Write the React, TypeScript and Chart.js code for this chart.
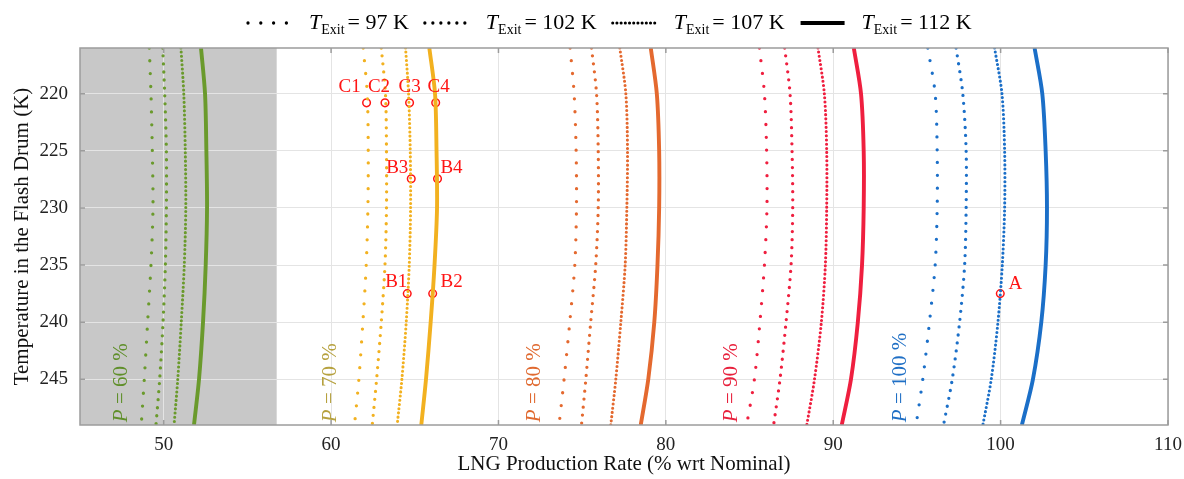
import React, { useEffect, useRef } from 'react';
import { Chart, registerables } from 'chart.js';

Chart.register(...registerables);

// ---------- data ----------
const Y_LEVELS = [216, 220, 225, 230, 235, 240, 245, 249];
const X_TICKS = [50, 60, 70, 80, 90, 100, 110];
const Y_TICKS = [220, 225, 230, 235, 240, 245];
const T_EXIT = [97, 102, 107, 112];
const PRESSURES = [60, 70, 80, 90, 100];
const SHADED_MAX = 56.75;

const P60_T97 = [49.14, 49.24, 49.32, 49.36, 49.24, 49.04, 48.84, 48.66];
const P60_T102 = [49.94, 50.06, 50.16, 50.16, 50.1, 49.96, 49.76, 49.54];
const P60_T107 = [51.03, 51.2, 51.29, 51.32, 51.23, 51.05, 50.84, 50.62];
const P60_T112 = [52.23, 52.47, 52.55, 52.59, 52.51, 52.35, 52.11, 51.81];

const P70_T97 = [61.92, 62.16, 62.22, 62.2, 62.1, 61.9, 61.66, 61.4];
const P70_T102 = [63.0, 63.25, 63.31, 63.31, 63.22, 63.0, 62.72, 62.46];
const P70_T107 = [64.45, 64.63, 64.73, 64.75, 64.67, 64.49, 64.23, 63.95];
const P70_T112 = [65.87, 66.21, 66.3, 66.33, 66.18, 65.95, 65.67, 65.39];

const P80_T97 = [74.28, 74.52, 74.64, 74.66, 74.56, 74.26, 73.92, 73.62];
const P80_T102 = [75.56, 75.86, 75.96, 75.96, 75.81, 75.51, 75.22, 74.96];
const P80_T107 = [77.25, 77.61, 77.71, 77.67, 77.57, 77.31, 77.01, 76.71];
const P80_T112 = [79.1, 79.46, 79.6, 79.6, 79.5, 79.31, 78.95, 78.5];

const P90_T97 = [85.59, 85.89, 86.02, 86.04, 85.89, 85.62, 85.29, 84.83];
const P90_T102 = [87.1, 87.42, 87.54, 87.58, 87.48, 87.18, 86.82, 86.44];
const P90_T107 = [89.09, 89.47, 89.61, 89.61, 89.53, 89.29, 88.88, 88.42];
const P90_T112 = [91.23, 91.66, 91.82, 91.82, 91.72, 91.47, 91.06, 90.51];

const P100_T97 = [95.65, 96.09, 96.21, 96.21, 96.09, 95.75, 95.35, 94.95];
const P100_T102 = [97.34, 97.74, 97.94, 97.94, 97.85, 97.55, 97.11, 96.59];
const P100_T107 = [99.64, 100.08, 100.24, 100.24, 100.1, 99.84, 99.44, 98.94];
const P100_T112 = [102.03, 102.49, 102.69, 102.77, 102.69, 102.43, 101.93, 101.27];

const SERIES = [
  [P60_T97, P60_T102, P60_T107, P60_T112],
  [P70_T97, P70_T102, P70_T107, P70_T112],
  [P80_T97, P80_T102, P80_T107, P80_T112],
  [P90_T97, P90_T102, P90_T107, P90_T112],
  [P100_T97, P100_T102, P100_T107, P100_T112],
];

const POINT_NAMES = ['C1', 'C2', 'C3', 'C4', 'B3', 'B4', 'B1', 'B2', 'A'];
const POINT_X = [62.12, 63.22, 64.69, 66.25, 64.79, 66.36, 64.55, 66.07, 99.98];
const POINT_Y = [220.8, 220.8, 220.8, 220.8, 227.45, 227.45, 237.5, 237.5, 237.5];

const P_LABEL_X = [47.45, 59.95, 72.15, 83.95, 94.0];
const P_LABEL_Y = 248.75;

// ---------- styles ----------
const FONT = '"Liberation Serif", "Times New Roman", serif';
const SERIES_COLORS = ['#6a9a2c', '#f2b120', '#e4692f', '#ef1f3f', '#1b6fc8'];
const P_LABEL_COLORS = ['#5f8f2a', '#b6a13e', '#e0692f', '#e8203c', '#1f6fc5'];
const DASHES = [[0, 12.8], [0, 8], [0, 4.2], []];
const WIDTHS = [3.3, 3.3, 3.1, 3.9];
const POINT_COLOR = '#ff1414';
const LABEL_OFFSETS = [
  [-17, -11], [-6, -11], [0, -11], [3, -11],
  [-14, -5.6], [14, -5.6], [-11, -6.7], [19, -6.7], [15, -5],
];

const shadePlugin = {
  id: 'shade',
  beforeDraw(chart: any) {
    const { ctx, chartArea, scales } = chart;
    const x1 = scales.x.getPixelForValue(SHADED_MAX);
    ctx.save();
    ctx.fillStyle = '#c8c8c8';
    ctx.fillRect(chartArea.left, chartArea.top, x1 - chartArea.left, chartArea.bottom - chartArea.top);
    ctx.restore();
  },
};

const boxPlugin = {
  id: 'box',
  afterDatasetsDraw(chart: any) {
    const { ctx, chartArea: a, scales } = chart;
    ctx.save();
    ctx.strokeStyle = '#9c9c9c';
    ctx.lineWidth = 1.5;
    ctx.setLineDash([]);
    ctx.strokeRect(a.left, a.top, a.right - a.left, a.bottom - a.top);
    ctx.beginPath();
    X_TICKS.forEach((v) => {
      const px = scales.x.getPixelForValue(v);
      ctx.moveTo(px, a.bottom); ctx.lineTo(px, a.bottom - 5);
      ctx.moveTo(px, a.top); ctx.lineTo(px, a.top + 5);
    });
    Y_TICKS.forEach((v) => {
      const py = scales.y.getPixelForValue(v);
      ctx.moveTo(a.left, py); ctx.lineTo(a.left + 5, py);
      ctx.moveTo(a.right, py); ctx.lineTo(a.right - 5, py);
    });
    ctx.stroke();
    ctx.restore();
  },
};

const labelsPlugin = {
  id: 'labels',
  afterDatasetsDraw(chart: any) {
    const { ctx, scales } = chart;
    ctx.save();
    ctx.fillStyle = POINT_COLOR;
    ctx.font = `19px ${FONT}`;
    ctx.textAlign = 'center';
    ctx.textBaseline = 'alphabetic';
    POINT_NAMES.forEach((n, i) => {
      const px = scales.x.getPixelForValue(POINT_X[i]);
      const py = scales.y.getPixelForValue(POINT_Y[i]);
      ctx.fillText(n, px + LABEL_OFFSETS[i][0], py + LABEL_OFFSETS[i][1]);
    });
    PRESSURES.forEach((p, i) => {
      const px = scales.x.getPixelForValue(P_LABEL_X[i]);
      const py = scales.y.getPixelForValue(P_LABEL_Y);
      ctx.save();
      ctx.translate(px, py);
      ctx.rotate(-Math.PI / 2);
      ctx.fillStyle = P_LABEL_COLORS[i];
      ctx.textAlign = 'left';
      ctx.textBaseline = 'middle';
      ctx.font = `italic 21px ${FONT}`;
      ctx.fillText('P', 0, 0);
      const w = ctx.measureText('P').width;
      ctx.font = `21px ${FONT}`;
      ctx.fillText(` = ${p} %`, w, 0);
      ctx.restore();
    });
    ctx.restore();
  },
};

const legendPlugin = {
  id: 'texitLegend',
  afterDraw(chart: any) {
    const ctx = chart.ctx;
    let x = 248;
    const yLine = 23;
    const yBase = 29;
    ctx.save();
    T_EXIT.forEach((t, i) => {
      ctx.save();
      ctx.strokeStyle = '#000';
      ctx.lineWidth = WIDTHS[i];
      ctx.lineCap = i === 3 ? 'butt' : 'round';
      ctx.setLineDash(DASHES[i]);
      ctx.beginPath();
      ctx.moveTo(x, yLine);
      ctx.lineTo(x + 44, yLine);
      ctx.stroke();
      ctx.restore();
      x += 44 + 17;
      ctx.fillStyle = '#000';
      ctx.textAlign = 'left';
      ctx.textBaseline = 'alphabetic';
      ctx.font = `italic 22px ${FONT}`;
      ctx.fillText('T', x, yBase);
      x += ctx.measureText('T').width;
      ctx.font = `14px ${FONT}`;
      ctx.fillText('Exit', x, yBase + 5);
      x += ctx.measureText('Exit').width + 3;
      ctx.font = `22px ${FONT}`;
      const s = `= ${t} K`;
      ctx.fillText(s, x, yBase);
      x += ctx.measureText(s).width + 16;
    });
    ctx.restore();
  },
};

export default function App() {
  const ref = useRef<HTMLCanvasElement>(null);
  useEffect(() => {
    if (!ref.current) return;
    const datasets: any[] = [];
    SERIES.forEach((group, pi) => {
      group.forEach((xs, ti) => {
        datasets.push({
          label: `P=${PRESSURES[pi]} T=${T_EXIT[ti]}`,
          data: xs.map((x, k) => ({ x, y: Y_LEVELS[k] })),
          showLine: true,
          borderColor: SERIES_COLORS[pi],
          backgroundColor: SERIES_COLORS[pi],
          borderWidth: WIDTHS[ti],
          borderDash: DASHES[ti],
          borderCapStyle: ti === 3 ? 'butt' : 'round',
          borderJoinStyle: 'round',
          pointRadius: 0,
          pointHoverRadius: 0,
          tension: 0.3,
          fill: false,
        });
      });
    });
    datasets.push({
      label: 'points',
      data: POINT_X.map((x, i) => ({ x, y: POINT_Y[i] })),
      showLine: false,
      pointStyle: 'circle',
      pointRadius: 3.8,
      pointBorderWidth: 1.5,
      pointBorderColor: POINT_COLOR,
      pointBackgroundColor: 'rgba(0,0,0,0)',
    });

    const chart = new Chart(ref.current, {
      type: 'scatter',
      data: { datasets },
      options: {
        animation: false,
        responsive: false,
        devicePixelRatio: 1,
        layout: { padding: { left: 0, top: 48, right: 16, bottom: 0 } },
        plugins: { legend: { display: false }, tooltip: { enabled: false } },
        scales: {
          x: {
            type: 'linear',
            min: 45,
            max: 110,
            afterBuildTicks: (s: any) => { s.ticks = X_TICKS.map((v) => ({ value: v })); },
            afterFit: (s: any) => { s.height = 54; s.paddingLeft = 0; s.paddingRight = 0; },
            grid: { color: '#e4e4e4', lineWidth: 1, drawTicks: false },
            border: { display: false },
            ticks: { color: '#222', font: { family: FONT, size: 19 }, padding: 9, maxRotation: 0 },
            title: {
              display: true,
              text: 'LNG Production Rate (% wrt Nominal)',
              color: '#111',
              font: { family: FONT, size: 21 },
              padding: { top: 0, bottom: 2 },
            },
          },
          y: {
            type: 'linear',
            reverse: true,
            min: 216,
            max: 249,
            afterBuildTicks: (s: any) => { s.ticks = Y_TICKS.map((v) => ({ value: v })); },
            afterFit: (s: any) => { s.width = 80; s.paddingTop = 0; s.paddingBottom = 0; },
            grid: { color: '#e4e4e4', lineWidth: 1, drawTicks: false },
            border: { display: false },
            ticks: { color: '#222', font: { family: FONT, size: 19 }, padding: 12 },
            title: {
              display: true,
              text: 'Temperature in the Flash Drum (K)',
              color: '#111',
              font: { family: FONT, size: 21 },
              padding: { top: 10, bottom: 0 },
            },
          },
        },
      },
      plugins: [shadePlugin, boxPlugin, labelsPlugin, legendPlugin],
    } as any);
    return () => chart.destroy();
  }, []);

  return (
    <div style={{ position: 'fixed', left: 0, top: 0, width: 1184, height: 479, background: '#fff' }}>
      <canvas ref={ref} width={1184} height={479} style={{ display: 'block', width: 1184, height: 479 }} />
    </div>
  );
}
